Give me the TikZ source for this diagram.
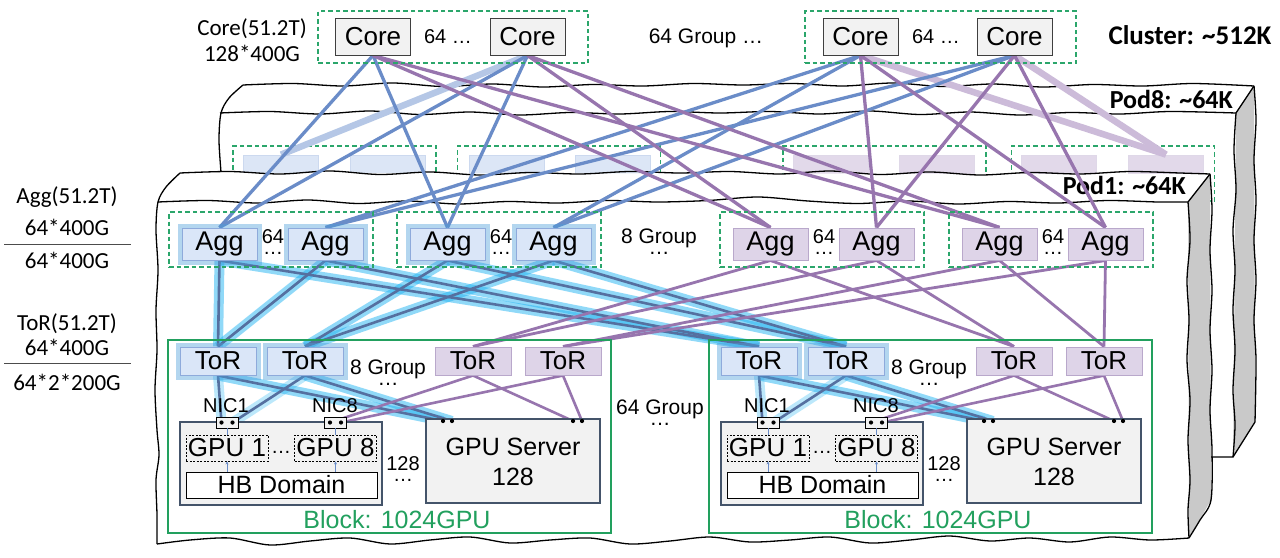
\documentclass[tikz,border=0pt]{standalone}
\usepackage{fontspec}
\setmainfont{Liberation Sans}
\newfontfamily\calfont{Carlito}
\usetikzlibrary{arrows.meta}
\definecolor{boxgray}{HTML}{F2F2F2}
\definecolor{boxedge}{HTML}{3F3F3F}
\definecolor{grp}{HTML}{2BA66B}
\definecolor{blk}{HTML}{22A05E}
\definecolor{aggblue}{HTML}{DAE6F8}
\definecolor{aggblueedge}{HTML}{8EAADB}
\definecolor{aggpur}{HTML}{DED4E8}
\definecolor{aggpuredge}{HTML}{B9A8CB}
\definecolor{lblue}{HTML}{6A8CC8}
\definecolor{lpur}{HTML}{9775AE}
\definecolor{glowc}{HTML}{22B4F2}
\definecolor{fadeblue}{HTML}{B5C7E6}
\definecolor{fadepur}{HTML}{CCBBD9}
\definecolor{p8blue}{HTML}{DCE6F6}
\definecolor{p8pur}{HTML}{E2D9EA}
\definecolor{faceg}{HTML}{C9C9C9}
\definecolor{srvedge}{HTML}{44546A}
\pgfdeclarelayer{back}
\pgfdeclarelayer{lines}
\pgfsetlayers{back,lines,main}
\begin{document}
\begin{tikzpicture}[x=1pt,y=-1pt,
  edge/.style={draw=black, line width=1.3pt, line join=round},
  lbl/.style={inner sep=0pt, font=\calfont\fontsize{23}{26}\selectfont},
  podlbl/.style={inner sep=0pt, font=\calfont\bfseries\fontsize{26}{28}\selectfont},
  txt/.style={inner sep=0pt, font=\fontsize{21}{24}\selectfont},
  stxt/.style={inner sep=0pt, font=\fontsize{20}{22}\selectfont},
  dots/.style={inner sep=0pt, align=center, font=\fontsize{21}{11}\selectfont},
  sdots/.style={inner sep=0pt, align=center, font=\fontsize{20}{11}\selectfont},
  btxt/.style={inner sep=0pt, font=\fontsize{25}{28}\selectfont},
  corebox/.style={draw=boxedge, fill=boxgray, line width=0.9pt, minimum width=75pt, minimum height=37pt, inner sep=0pt, font=\fontsize{26}{28}\selectfont},
  grpbox/.style={draw=grp, dash pattern=on 4.5pt off 3pt, line width=1.2pt, inner sep=0pt},
  bluebox/.style={draw=aggblueedge, fill=aggblue, line width=1pt, inner sep=0pt, preaction={draw=glowc!45!lblue, line width=9pt, opacity=0.42}},
  purbox/.style={draw=aggpuredge, fill=aggpur, line width=1pt, inner sep=0pt},
  aggb/.style={bluebox, minimum width=75pt, minimum height=32pt, font=\fontsize{27}{28}\selectfont},
  aggp/.style={purbox, minimum width=75pt, minimum height=32pt, font=\fontsize{27}{28}\selectfont},
  torb/.style={bluebox, minimum width=76pt, minimum height=28pt, font=\fontsize{26}{27}\selectfont},
  torp/.style={purbox, minimum width=76pt, minimum height=28pt, font=\fontsize{26}{27}\selectfont},
  p8b/.style={draw=aggblueedge!45, fill=p8blue, line width=0.8pt, minimum width=75pt, minimum height=32pt, inner sep=0pt},
  p8p/.style={draw=aggpuredge!45, fill=p8pur, line width=0.8pt, minimum width=75pt, minimum height=32pt, inner sep=0pt},
  blkbox/.style={draw=blk, line width=1.2pt, inner sep=0pt},
  srvbox/.style={draw=srvedge, fill=boxgray, line width=1.2pt, inner sep=0pt},
  gpubox/.style={draw=black, dash pattern=on 2pt off 1.5pt, line width=0.8pt, fill=boxgray, minimum width=82pt, minimum height=26pt, inner sep=0pt, font=\fontsize{26}{27}\selectfont},
  hbbox/.style={draw=black, fill=white, line width=1pt, minimum width=191pt, minimum height=26pt, inner sep=0pt, font=\fontsize{25}{26}\selectfont},
  nicbox/.style={draw=black, fill=boxgray, line width=0.8pt, minimum width=22pt, minimum height=11pt, inner sep=0pt},
  bl/.style={draw=lblue, line width=3.3pt},
  pl/.style={draw=lpur, line width=3.3pt},
  fadeb/.style={draw=fadeblue, line width=6.5pt},
  fadep/.style={draw=fadepur, line width=6.5pt},
  glw/.style={draw=glowc, line width=10pt, opacity=0.5},
  gbl/.style={draw=lblue!80!black, line width=2.6pt},
  thinb/.style={draw=lblue, line width=0.8pt},
]
\useasboundingbox (0,0) rectangle (1280,557);

% ================= back layer: pods =================
\begin{pgfonlayer}{back}
 % ---- Pod8 ----
 \fill[white] (243,85) -- (1254,86) -- (1255,422) -- (1233,457) -- (220,457) -- (220,113) -- cycle;
 \fill[faceg] (1236,113) -- (1254,86) -- (1255,422) -- (1233,457) -- cycle;
 \draw[edge] plot[smooth] coordinates {(243,85)(293,83.5)(343,86)(393,83)(443,86.5)(493,84)(543,87)(593,84.5)(643,86)(693,83.5)(743,85)(793,83.5)(843,86)(893,83)(943,86.5)(993,84)(1043,87)(1093,84.5)(1143,86)(1193,83.5)(1254,86)};
 \draw[edge] plot[smooth] coordinates {(220,113)(270,111.5)(320,114)(370,111)(420,114.5)(470,112)(520,115)(570,112.5)(620,114)(670,111.5)(720,113)(770,111.5)(820,114)(870,111)(920,114.5)(970,112)(1020,115)(1070,112.5)(1120,114)(1170,111.5)(1236,113)};
 \draw[edge] (1254,86) -- (1236,113);
 \draw[edge] plot[smooth] coordinates {(243,85)(229,98)(221,113)(219,140)(221,172)};
 \draw[edge] plot[smooth] coordinates {(1236,113)(1234,150)(1236,190)(1233,230)(1235,270)(1233,310)(1235,350)(1233,390)(1235,425)(1233,457)};
 \draw[edge] plot[smooth] coordinates {(1254,86)(1256,120)(1254,160)(1256,200)(1254,240)(1256,280)(1254,320)(1256,360)(1255,422)};
 \draw[edge] (1255,422) -- (1233,457) -- (1205,457);
 \node[podlbl, anchor=base east] (pod8lbl) at (1233,108) {Pod8: \textasciitilde64K};
 % ---- Pod8 groups (mostly hidden) ----
 \node[grpbox, minimum width=203pt, minimum height=55pt] (p8ga) at (334.5,173.5) {};
 \node[grpbox, minimum width=203pt, minimum height=55pt] (p8gb) at (559,173.5) {};
 \node[grpbox, minimum width=203pt, minimum height=55pt] (p8gc) at (884.5,173.5) {};
 \node[grpbox, minimum width=203pt, minimum height=55pt] (p8gd) at (1113,173.5) {};
 \node[p8b] (p8a1) at (281,171) {};
 \node[p8b] (p8a2) at (388,171) {};
 \node[p8b] (p8b1) at (507,171) {};
 \node[p8b] (p8b2) at (613,171) {};
 \node[p8p] (p8c1) at (831,171) {};
 \node[p8p] (p8c2) at (937,171) {};
 \node[p8p] (p8d1) at (1059,171) {};
 \node[p8p] (p8d2) at (1166,171) {};
 % ---- Pod1 ----
 \fill[white] (180,173) -- (1210,174) -- (1211,500) -- (1189,538) -- (157,544) -- (158,202) -- cycle;
 \fill[faceg] (1188,202) -- (1210,174) -- (1211,500) -- (1189,538) -- cycle;
 \draw[edge] plot[smooth] coordinates {(180,173)(230,171.5)(280,174)(330,171)(380,174.5)(430,172)(480,175)(530,172.5)(580,174)(630,171.5)(680,173)(730,171.5)(780,174)(830,171)(880,174.5)(930,172)(980,175)(1030,172.5)(1080,174)(1130,171.5)(1180,173)(1210,174)};
 \draw[edge] plot[smooth] coordinates {(158,202)(208,200.5)(258,203)(308,200)(358,203.5)(408,201)(458,204)(508,201.5)(558,203)(608,200.5)(658,202)(708,200.5)(758,197)(808,201)(858,203.5)(908,201)(958,204)(1008,201.5)(1058,203)(1108,200.5)(1158,202)(1188,202)};
 \draw[edge] (1210,174) -- (1188,202);
 \draw[edge] plot[smooth] coordinates {(180,173)(166,187)(158,202)(156,230)(158,270)(156,310)(157,350)(155,390)(157,430)(159,455)(156,480)(157,515)(157,544)};
 \draw[edge] plot[smooth] coordinates {(157,544)(190,540)(230,538)(270,545)(310,541)(350,538)(390,544)(430,540)(470,537)(510,543)(550,540)(590,538)(630,544)(670,541)(710,537)(750,542)(790,540)(830,537)(870,543)(910,540)(950,536)(990,541)(1030,538)(1070,542)(1110,537)(1150,540)(1189,538)};
 \draw[edge] plot[smooth] coordinates {(1188,202)(1190,240)(1187,280)(1189,320)(1187,360)(1190,400)(1188,440)(1190,480)(1188,510)(1189,538)};
 \draw[edge] plot[smooth] coordinates {(1210,174)(1212,210)(1210,250)(1212,290)(1210,330)(1212,370)(1210,410)(1212,450)(1211,500)(1200,520)(1189,538)};
 \node[podlbl, anchor=base east] (pod1lbl) at (1186,194) {Pod1: \textasciitilde64K};
\end{pgfonlayer}

% ================= Core level =================
\node[lbl, anchor=base] (corel1) at (252,35) {Core(51.2T)};
\node[lbl, anchor=base] (corel2) at (252,61) {128*400G};
\node[grpbox, minimum width=270pt, minimum height=52pt] (cg1) at (453,37) {};
\node[grpbox, minimum width=271pt, minimum height=52pt] (cg2) at (940.5,37) {};
\node[corebox] (core1) at (373,36.5) {Core};
\node[corebox] (core2) at (527.5,36.5) {Core};
\node[corebox] (core3) at (860.5,36.5) {Core};
\node[corebox] (core4) at (1014.5,36.5) {Core};
\node[stxt, anchor=base] (c64a) at (448,43) {64 …};
\node[stxt, anchor=base] (c64b) at (936,43) {64 …};
\node[txt, anchor=base] (cgrp) at (706,43) {64 Group …};
\node[inner sep=0pt, font=\calfont\bfseries\fontsize{27}{30}\selectfont, anchor=base] (cluster) at (1190,44) {Cluster: \textasciitilde512K};

% ================= left labels =================
\node[lbl, anchor=base] (aggl1) at (67,203) {Agg(51.2T)};
\node[lbl, anchor=base] (aggl2) at (67,235) {64*400G};
\node[lbl, anchor=base] (aggl3) at (67,268) {64*400G};
\coordinate (rule1a) at (4,244);
\coordinate (rule1b) at (131,244);
\draw[line width=0.9pt, draw=black!70] (rule1a) -- (rule1b);
\node[lbl, anchor=base] (torl1) at (67,330) {ToR(51.2T)};
\node[lbl, anchor=base] (torl2) at (67,355) {64*400G};
\node[lbl, anchor=base] (torl3) at (67,390) {64*2*200G};
\coordinate (rule2a) at (4,363);
\coordinate (rule2b) at (131,363);
\draw[line width=0.9pt, draw=black!70] (rule2a) -- (rule2b);

% ================= Agg level =================
\node[grpbox, minimum width=204pt, minimum height=55pt] (ag1) at (271,239.5) {};
\node[grpbox, minimum width=204pt, minimum height=55pt] (ag2) at (499,239.5) {};
\node[grpbox, minimum width=204pt, minimum height=55pt] (ag3) at (822,239.5) {};
\node[grpbox, minimum width=204pt, minimum height=55pt] (ag4) at (1051,239.5) {};
\node[aggb] (agg1) at (219.5,244) {Agg};
\node[aggb] (agg2) at (325.5,244) {Agg};
\node[aggb] (agg3) at (447.5,244) {Agg};
\node[aggb] (agg4) at (553.5,244) {Agg};
\node[aggp] (agg5) at (770.5,244) {Agg};
\node[aggp] (agg6) at (876.5,244) {Agg};
\node[aggp] (agg7) at (999.5,244) {Agg};
\node[aggp] (agg8) at (1105.5,244) {Agg};
\foreach \x/\n in {273/a,501/b,824/c,1053/d}{
  \node[sdots, anchor=north] (a64\n) at (\x,229) {64\\…};
}
\node[dots, anchor=north] (agrp) at (659,229) {8 Group\\…};

% ================= Blocks =================
\foreach \b/\s in {0/a,541/b}{
  \node[blkbox, minimum width=443pt, minimum height=193pt] (blk\s) at (389.5+\b,436.5) {};
  \node[torb] (t1\s) at (218+\b,361) {ToR};
  \node[torb] (t2\s) at (305+\b,361) {ToR};
  \node[torp] (t3\s) at (473+\b,361) {ToR};
  \node[torp] (t4\s) at (563+\b,361) {ToR};
  \node[dots, anchor=north] (tg\s) at (388+\b,360) {8 Group\\…};
  \node[stxt, anchor=base] (n1l\s) at (226+\b,412) {NIC1};
  \node[stxt, anchor=base] (n8l\s) at (335+\b,412) {NIC8};
  \node[srvbox, minimum width=202pt, minimum height=83pt] (sv\s) at (281+\b,463.5) {};
  \node[nicbox] (n1\s) at (227+\b,422.5) {};
  \node[nicbox] (n8\s) at (335.5+\b,422.5) {};
  \coordinate (nd1\s) at (221.5+\b,422.5);
  \coordinate (nd2\s) at (232.5+\b,422.5);
  \coordinate (nd3\s) at (330+\b,422.5);
  \coordinate (nd4\s) at (341+\b,422.5);
  \foreach \d in {nd1,nd2,nd3,nd4} \fill (\d\s) circle (2.1pt);
  \node[gpubox] (g1\s) at (227+\b,448) {GPU 1};
  \node[gpubox] (g8\s) at (335.5+\b,448) {GPU 8};
  \node[stxt, anchor=base] (gd\s) at (281+\b,453) {…};
  \node[hbbox] (hb\s) at (281.5+\b,485) {HB Domain};
  \draw[thinb] (n1\s.south) -- (g1\s.north);
  \draw[thinb] (n8\s.south) -- (g8\s.north);
  \draw[thinb, -{Stealth[length=3pt,width=3pt]}] (hb\s.north -| g1\s) -- (g1\s.south);
  \draw[thinb, -{Stealth[length=3pt,width=3pt]}] (hb\s.north -| g8\s) -- (g8\s.south);
  \node[sdots, anchor=north] (s128\s) at (403+\b,456) {128\\…};
  \node[srvbox, minimum width=174pt, minimum height=84pt] (gs\s) at (513+\b,461) {};
  \node[btxt, anchor=base] (gst\s) at (513+\b,455) {GPU Server};
  \node[btxt, anchor=base] (gsn\s) at (513+\b,485) {128};
  \coordinate (sd1\s) at (443+\b,421);
  \coordinate (sd2\s) at (452+\b,421);
  \coordinate (sd3\s) at (573+\b,421);
  \coordinate (sd4\s) at (582+\b,421);
  \foreach \d in {sd1,sd2,sd3,sd4} \fill (\d\s) circle (2.1pt);
  \node[btxt, text=blk, anchor=base] (blkt\s) at (397+\b,528) {Block: 1024GPU};
}
\node[dots, anchor=north] (bgrp) at (660,400) {64 Group\\…};

% ================= connectors =================
\begin{pgfonlayer}{lines}
 % faded links to Pod8
 \draw[fadeb] (core2.south) -- (p8a1.north);
 \draw[fadep] (core3.south) -- (p8d2.north);
 \draw[fadep] (core4.south) -- (p8d2.north);
 % Core - Agg
 \foreach \c/\a in {core1/agg1,core1/agg3,core2/agg1,core2/agg3,core3/agg2,core3/agg4,core4/agg2,core4/agg4}
   \draw[bl] (\c.south) -- (\a.north);
 \foreach \c/\a in {core1/agg5,core1/agg7,core2/agg5,core2/agg7,core3/agg6,core3/agg8,core4/agg6,core4/agg8}
   \draw[pl] (\c.south) -- (\a.north);
 % glow under blue Agg - ToR and ToR - server
 \foreach \a/\t in {agg1/t1a,agg2/t1a,agg3/t2a,agg4/t2a,agg1/t1b,agg2/t1b,agg3/t2b,agg4/t2b}
   \draw[glw] (\a.south) -- (\t.north);
 \foreach \s in {a,b}{
   \draw[glw] (t1\s.south) -- (sd1\s);
   \draw[glw] (t2\s.south) -- (sd2\s);
   \draw[glw, opacity=0.3] (t1\s.south) -- (nd1\s);
   \draw[glw, opacity=0.3] (t2\s.south) -- (nd2\s);
 }
 \foreach \a/\t in {agg1/t1a,agg2/t1a,agg3/t2a,agg4/t2a,agg1/t1b,agg2/t1b,agg3/t2b,agg4/t2b}
   \draw[gbl] (\a.south) -- (\t.north);
 \foreach \s in {a,b}{
   \draw[gbl] (t1\s.south) -- (sd1\s);
   \draw[gbl] (t2\s.south) -- (sd2\s);
   \draw[gbl] (t1\s.south) -- (nd1\s);
   \draw[gbl] (t2\s.south) -- (nd2\s);
 }
 % purple Agg - ToR and ToR - server
 \foreach \a/\t in {agg5/t3a,agg6/t3a,agg7/t4a,agg8/t4a,agg5/t3b,agg6/t3b,agg7/t4b,agg8/t4b}
   \draw[pl, line width=2.8pt] (\a.south) -- (\t.north);
 \foreach \s in {a,b}{
   \draw[pl, line width=2.6pt] (t3\s.south) -- (nd3\s);
   \draw[pl, line width=2.6pt] (t4\s.south) -- (nd4\s);
   \draw[pl, line width=2.6pt] (t3\s.south) -- (sd3\s);
   \draw[pl, line width=2.6pt] (t4\s.south) -- (sd4\s);
 }
\end{pgfonlayer}
\end{tikzpicture}
\end{document}
